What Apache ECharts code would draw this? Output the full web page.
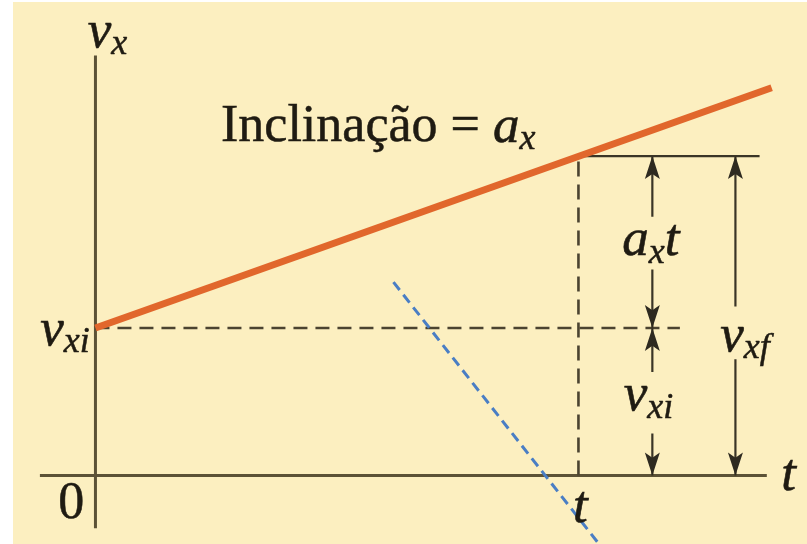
<!DOCTYPE html>
<html>
<head>
<meta charset="utf-8">
<script src="https://cdn.jsdelivr.net/npm/echarts@6/dist/echarts.min.js"></script>
<style>
  html, body { margin: 0; padding: 0; background: #ffffff; }
  #chart { width: 807px; height: 544px; }
</style>
</head>
<body>
<div id="chart"></div>
<script>
// v x t, aceleração constante
const lineT = [0, 14];
const lineV = [15.1, 39.7];
const tMark = 10;
const vInit = 15.1;
const vFinal = 32.7;

// colunas das setas (em t)
const colAt = 11.53;
const colVf = 13.25;

// trechos das setas: [t, início, ponta]
const arrowSegs = [
  [colAt, 26.5, vFinal],
  [colAt, 21.1, vInit],
  [colAt, 10.6, vInit],
  [colAt, 4.3, 0],
  [colVf, 17.3, vFinal],
  [colVf, 11.9, 0]
];

// rótulos: [t, v, texto, alinhamento]
const labels = [
  [0.25, 45.3, '{v|v}{s|x}', 'center'],
  [-0.12, 14.8, '{v|v}{s|xi}', 'right'],
  [-0.5, -2.9, '{n|0}', 'center'],
  [14.35, 0.0, '{v|t}', 'center'],
  [10.04, -3.3, '{v|t}', 'center'],
  [11.5, 24.0, '{v|a}{s|x}{v|t}', 'center'],
  [11.45, 8.1, '{v|v}{s|xi}', 'center'],
  [13.45, 14.2, '{v|v}{s|xf}', 'center'],
  [2.6, 35.6, '{n|Inclinação = }{v|a}{s|x}', 'left']
];

const serif = "'Liberation Serif', 'Times New Roman', serif";
const ink = '#1f1b12';

function seg(points, style, z) {
  return {
    type: 'line',
    data: points,
    symbol: 'none',
    silent: true,
    z: z || 2,
    lineStyle: style
  };
}

const series = [];
// eixos
series.push(seg([[-1.15, 0], [13.9, 0]], { color: '#5c5236', width: 3 }));
series.push(seg([[0, -5.4], [0, 43]], { color: '#5c5236', width: 3 }));
// tracejadas
series.push(seg([[0, vInit], [12.1, vInit]], { color: '#4b4330', width: 2.6, type: [14, 8] }));
series.push(seg([[tMark, 0], [tMark, vFinal]], { color: '#4b4330', width: 2.6, type: [15, 8] }));
// linha horizontal em v_xf
series.push(seg([[tMark, vFinal], [13.75, vFinal]], { color: '#3a3526', width: 2.2 }));
// reta laranja
series.push(seg([[lineT[0], lineV[0]], [lineT[1], lineV[1]]], { color: '#e1672c', width: 7 }, 4));
// setas
arrowSegs.forEach(function (s) {
  series.push(seg([[s[0], s[1]], [s[0], s[2]]], { color: '#3a3526', width: 2.2 }));
});
const heads = arrowSegs.map(function (s) {
  const up = s[2] > s[1];
  return {
    value: [s[0], s[2]],
    symbolRotate: up ? 0 : 180,
    symbolOffset: [0, up ? '50%' : '-50%']
  };
});
series.push({
  type: 'scatter',
  data: heads,
  symbol: 'path://M6,0L12,22L6,17L0,22Z',
  symbolSize: [15, 23],
  silent: true,
  itemStyle: { color: '#2e2a20', opacity: 1 },
  z: 5
});
// linha azul tracejada
series.push(seg([[6.17, 19.8], [10.4, -6.84]], { color: '#4a7ec4', width: 3, type: [10, 6] }, 6));
// textos
series.push({
  type: 'scatter',
  symbolSize: 0,
  silent: true,
  z: 7,
  itemStyle: { opacity: 1 },
  data: labels.map(function (l) {
    return {
      value: [l[0], l[1]],
      label: {
        show: true,
        position: 'inside',
        align: l[3],
        verticalAlign: 'middle',
        formatter: l[2],
        rich: {
          v: { fontFamily: serif, fontStyle: 'italic', fontSize: 53, color: ink, lineHeight: 60,
               textBorderColor: ink, textBorderWidth: 0.6 },
          s: { fontFamily: serif, fontStyle: 'italic', fontSize: 36, color: ink, lineHeight: 30, verticalAlign: 'bottom',
               textBorderColor: ink, textBorderWidth: 0.5 },
          n: { fontFamily: serif, fontSize: 52, color: ink, lineHeight: 60,
               textBorderColor: ink, textBorderWidth: 0.5 }
        }
      }
    };
  })
});

const chart = echarts.init(document.getElementById('chart'));
chart.setOption({
  animation: false,
  backgroundColor: '#ffffff',
  graphic: {
    elements: [{
      type: 'rect',
      shape: { x: 13, y: 2, width: 794, height: 542 },
      style: { fill: '#fcefc0' },
      z: -10
    }]
  },
  grid: { left: 23, top: 16.4, width: 772.8, height: 529.2 },
  xAxis: { type: 'value', min: -1.5, max: 14.5, show: false },
  yAxis: { type: 'value', min: -7, max: 47, show: false },
  series: series
});
</script>
</body>
</html>
